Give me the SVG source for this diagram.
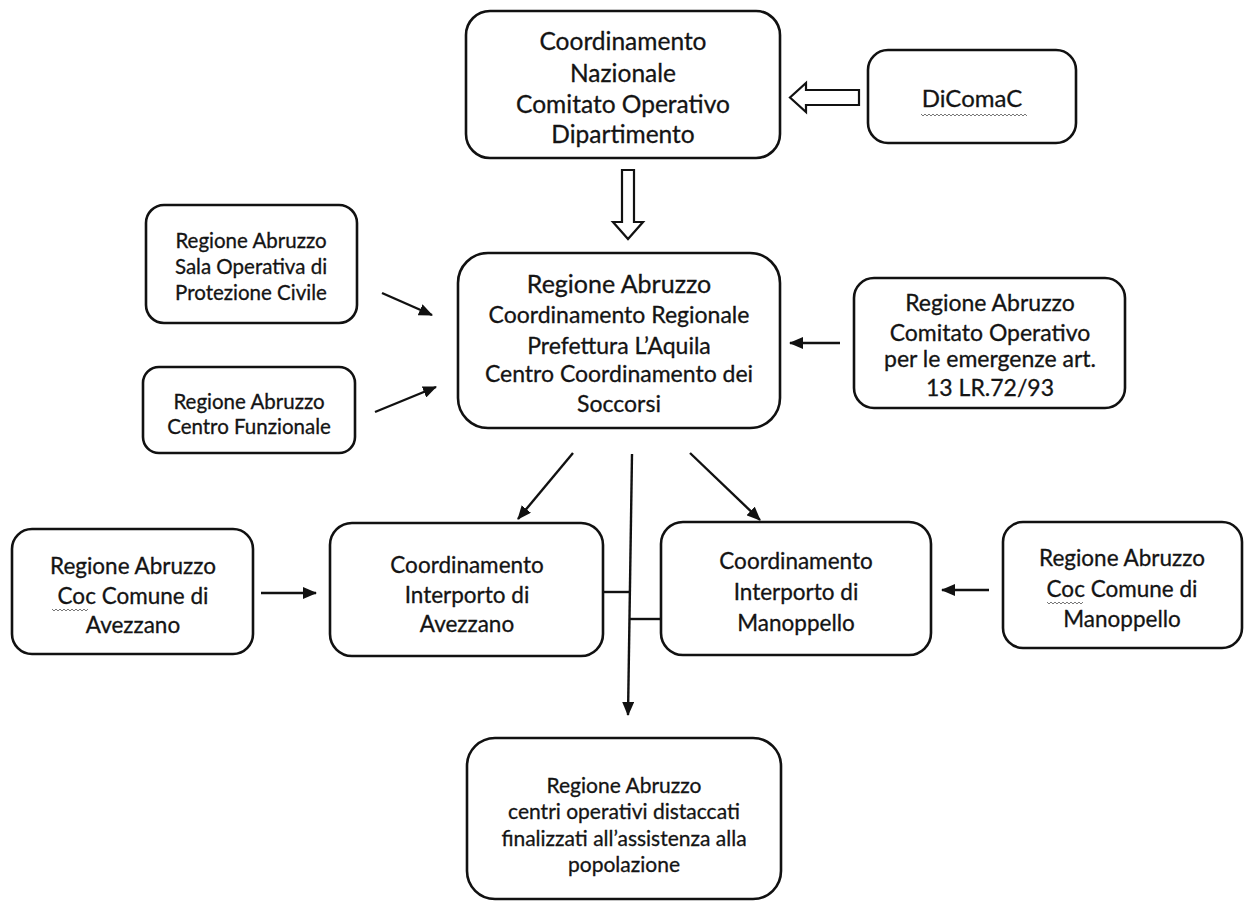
<svg xmlns="http://www.w3.org/2000/svg" width="1248" height="901" viewBox="0 0 1248 901">
<style>
.box{fill:#fff;stroke:#111;stroke-width:2.6}
.t{font-family:Lato,"Open Sans","Liberation Sans",sans-serif;fill:#141414;stroke:#141414;stroke-width:0.3;text-anchor:middle;dominant-baseline:central}
.ln{stroke:#111;stroke-width:2.4;fill:none}
.hol{fill:#fff;stroke:#111;stroke-width:2.2;stroke-linejoin:miter}
.wavy{fill:none;stroke:#777;stroke-width:1}
</style>
<defs>
<marker id="ah" markerUnits="userSpaceOnUse" markerWidth="14" markerHeight="12" refX="13" refY="6" orient="auto">
<path d="M0,0 L14,6 L0,12 Z" fill="#111"/>
</marker>
</defs>
<rect width="1248" height="901" fill="#fff"/>

<g id="coord-nazionale">
<rect class="box" x="466" y="11" width="314" height="147" rx="24"/>
<text class="t" x="623" y="40" font-size="24.5">Coordinamento</text>
<text class="t" x="623" y="72" font-size="24.5">Nazionale</text>
<text class="t" x="623" y="103" font-size="24.5">Comitato Operativo</text>
<text class="t" x="623" y="133" font-size="24.5">Dipartimento</text>
</g>

<g id="dicomac">
<rect class="box" x="868" y="50" width="208" height="93" rx="20"/>
<text class="t" x="972" y="97" font-size="24">DiComaC</text>
<path class="wavy" d="M921,114 l2,2 l2,-2 l2,2 l2,-2 l2,2 l2,-2 l2,2 l2,-2 l2,2 l2,-2 l2,2 l2,-2 l2,2 l2,-2 l2,2 l2,-2 l2,2 l2,-2 l2,2 l2,-2 l2,2 l2,-2 l2,2 l2,-2 l2,2 l2,-2 l2,2 l2,-2 l2,2 l2,-2 l2,2 l2,-2 l2,2 l2,-2 l2,2 l2,-2 l2,2 l2,-2 l2,2 l2,-2 l2,2 l2,-2 l2,2 l2,-2 l2,2 l2,-2 l2,2 l2,-2 l2,2 l2,-2 l2,2 l2,-2 l2,2"/>
</g>

<g id="sala-operativa">
<rect class="box" x="146" y="205" width="211" height="118" rx="18"/>
<text class="t" x="251" y="240" font-size="20.5">Regione Abruzzo</text>
<text class="t" x="251" y="266" font-size="20.5">Sala Operativa di</text>
<text class="t" x="251" y="292" font-size="20.5">Protezione Civile</text>
</g>

<g id="centro-funzionale">
<rect class="box" x="143" y="367" width="212" height="86" rx="16"/>
<text class="t" x="249" y="401" font-size="20.5">Regione Abruzzo</text>
<text class="t" x="249" y="426" font-size="20.5">Centro Funzionale</text>
</g>

<g id="coord-regionale">
<rect class="box" x="458" y="253" width="322" height="175" rx="30"/>
<text class="t" x="619" y="283" font-size="25">Regione Abruzzo</text>
<text class="t" x="619" y="314" font-size="23">Coordinamento Regionale</text>
<text class="t" x="619" y="345" font-size="23">Prefettura L’Aquila</text>
<text class="t" x="619" y="373" font-size="23">Centro Coordinamento dei</text>
<text class="t" x="619" y="403" font-size="23">Soccorsi</text>
</g>

<g id="comitato-operativo">
<rect class="box" x="854" y="278" width="271" height="130" rx="20"/>
<text class="t" x="990" y="302" font-size="23">Regione Abruzzo</text>
<text class="t" x="990" y="332" font-size="23">Comitato Operativo</text>
<text class="t" x="990" y="358" font-size="23">per le emergenze art.</text>
<text class="t" x="990" y="387" font-size="23">13 LR.72/93</text>
</g>

<g id="coc-avezzano">
<rect class="box" x="12" y="529" width="241" height="125" rx="20"/>
<text class="t" x="133" y="565" font-size="22.5">Regione Abruzzo</text>
<text class="t" x="133" y="595" font-size="22.5">Coc Comune di</text>
<text class="t" x="133" y="624" font-size="22.5">Avezzano</text>
<path class="wavy" d="M52,609 l2,2 l2,-2 l2,2 l2,-2 l2,2 l2,-2 l2,2 l2,-2 l2,2 l2,-2 l2,2 l2,-2 l2,2 l2,-2 l2,2 l2,-2 l2,2 l2,-2"/>
</g>

<g id="interporto-avezzano">
<rect class="box" x="330" y="523" width="273" height="133" rx="22"/>
<text class="t" x="467" y="564" font-size="22.5">Coordinamento</text>
<text class="t" x="467" y="594" font-size="22.5">Interporto di</text>
<text class="t" x="467" y="623" font-size="22.5">Avezzano</text>
</g>

<g id="interporto-manoppello">
<rect class="box" x="661" y="522" width="270" height="133" rx="22"/>
<text class="t" x="796" y="560" font-size="22.5">Coordinamento</text>
<text class="t" x="796" y="591" font-size="22.5">Interporto di</text>
<text class="t" x="796" y="622" font-size="22.5">Manoppello</text>
</g>

<g id="coc-manoppello">
<rect class="box" x="1003" y="522" width="239" height="126" rx="20"/>
<text class="t" x="1122" y="557" font-size="22.5">Regione Abruzzo</text>
<text class="t" x="1122" y="588" font-size="22.5">Coc Comune di</text>
<text class="t" x="1122" y="618" font-size="22.5">Manoppello</text>
<path class="wavy" d="M1047,602 l2,2 l2,-2 l2,2 l2,-2 l2,2 l2,-2 l2,2 l2,-2 l2,2 l2,-2 l2,2 l2,-2 l2,2 l2,-2 l2,2 l2,-2 l2,2 l2,-2"/>
</g>

<g id="centri-operativi">
<rect class="box" x="467" y="738" width="314" height="161" rx="28"/>
<text class="t" x="624" y="784" font-size="21">Regione Abruzzo</text>
<text class="t" x="624" y="810" font-size="21">centri operativi distaccati</text>
<text class="t" x="624" y="837" font-size="21">finalizzati all’assistenza alla</text>
<text class="t" x="624" y="863" font-size="21">popolazione</text>
</g>

<g id="connectors">
<polygon class="hol" points="859,90 806,90 806,83 790,97.5 806,112 806,105 859,105"/>
<polygon class="hol" points="622,170 634,170 634,222 643,222 628,239 613,222 622,222"/>
<line class="ln" x1="382" y1="293" x2="432" y2="315" marker-end="url(#ah)"/>
<line class="ln" x1="375" y1="412" x2="436" y2="387" marker-end="url(#ah)"/>
<line class="ln" x1="840" y1="343" x2="790" y2="343" marker-end="url(#ah)"/>
<line class="ln" x1="573" y1="453" x2="518" y2="519" marker-end="url(#ah)"/>
<line class="ln" x1="690" y1="453" x2="760" y2="520" marker-end="url(#ah)"/>
<line class="ln" x1="632" y1="454" x2="628" y2="715" marker-end="url(#ah)"/>
<line class="ln" x1="261" y1="593" x2="316" y2="593" marker-end="url(#ah)"/>
<line class="ln" x1="989" y1="590" x2="942" y2="590" marker-end="url(#ah)"/>
<line class="ln" x1="603" y1="592" x2="631" y2="592"/>
<line class="ln" x1="630" y1="619" x2="661" y2="619"/>
</g>
</svg>
